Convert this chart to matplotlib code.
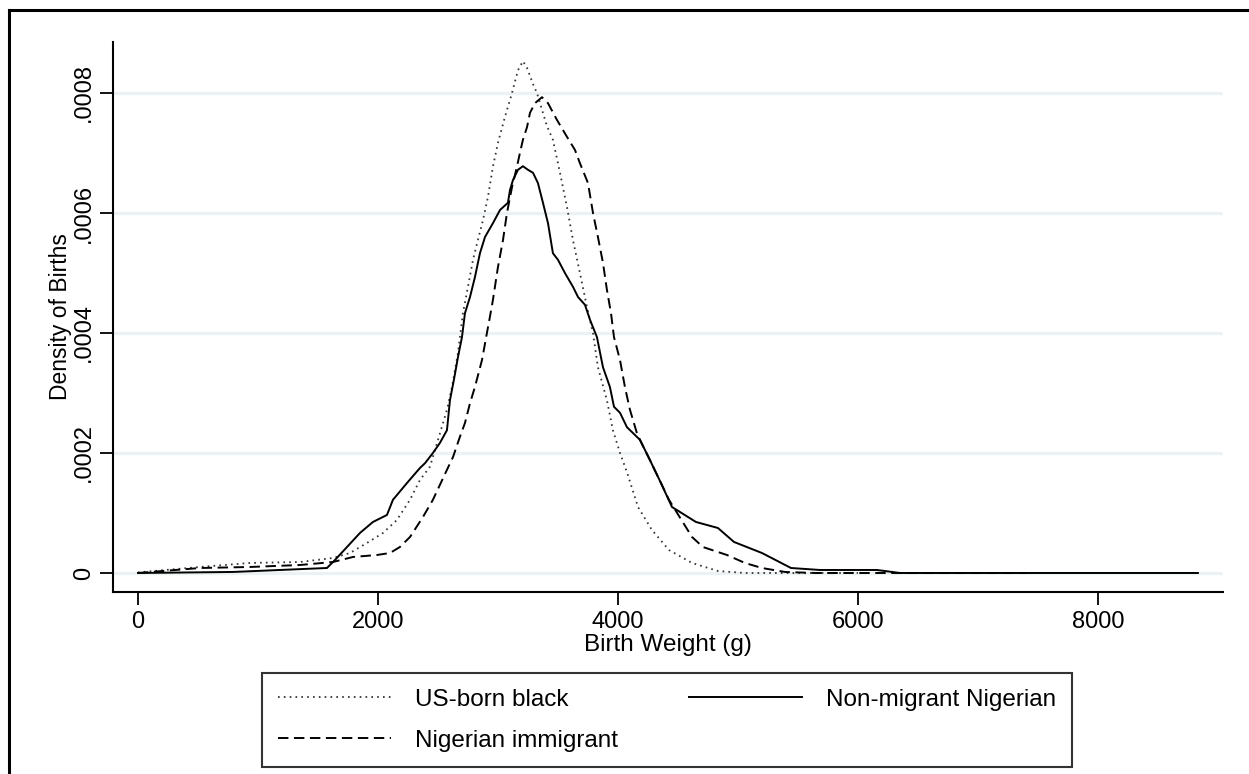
import matplotlib
matplotlib.use("Agg")
import matplotlib.pyplot as plt
from matplotlib.lines import Line2D

plt.rcParams['font.family'] = ['Liberation Sans', 'DejaVu Sans']
plt.rcParams['lines.scale_dashes'] = False

# US-born black (dotted)
us_x = [0, 517, 933, 1350, 1625, 1767, 1908, 2042, 2158, 2267, 2350, 2433, 2517,
        2575, 2617, 2667, 2708, 2750, 2792, 2833, 2875, 2917, 2958, 3000, 3058,
        3117, 3167, 3208, 3242, 3292, 3325, 3367, 3408, 3458, 3517, 3575, 3625,
        3683, 3742, 3792, 3833, 3908, 3958, 4017, 4075, 4167, 4283, 4425, 4617,
        4833, 5058, 6000]
us_y = [0.000001, 0.00001, 0.0000167, 0.0000183, 0.000025, 0.0000333, 0.00005,
        0.0000667, 0.0000883, 0.000122, 0.000155, 0.000177, 0.000233, 0.000272,
        0.00031, 0.000367, 0.000433, 0.000477, 0.000522, 0.000555, 0.000588,
        0.000627, 0.000677, 0.000717, 0.00076, 0.0008, 0.000838, 0.000853,
        0.000842, 0.000815, 0.0008, 0.000772, 0.000745, 0.000722, 0.000667,
        0.00061, 0.000555, 0.0005, 0.000443, 0.0004, 0.000343, 0.000288,
        0.000238, 0.0002, 0.000168, 0.00011, 0.0000717, 0.0000383, 0.0000167,
        0.0000033, 0.0, 0.0]

# Non-migrant Nigerian (solid)
nm_x = [0, 792, 1575, 1642, 1742, 1850, 1958, 2075, 2125, 2242, 2350, 2392, 2458,
        2517, 2575, 2600, 2633, 2667, 2700, 2725, 2767, 2808, 2850, 2892, 2958,
        3017, 3083, 3100, 3125, 3167, 3208, 3250, 3292, 3333, 3375, 3417, 3458,
        3500, 3558, 3625, 3667, 3725, 3767, 3825, 3875, 3933, 3967, 4017, 4075,
        4183, 4267, 4358, 4450, 4650, 4833, 4967, 5200, 5442, 5683, 6158, 6350,
        7417, 8833]
nm_y = [0.0, 0.0000017, 0.0000083, 0.0000217, 0.0000433, 0.0000667, 0.000085,
        0.0000967, 0.000122, 0.00015, 0.000175, 0.000183, 0.0002, 0.000217,
        0.000238, 0.000288, 0.000322, 0.00036, 0.000393, 0.000433, 0.00046,
        0.000493, 0.000533, 0.00056, 0.000583, 0.000605, 0.000617, 0.000638,
        0.000655, 0.000672, 0.000678, 0.000672, 0.000667, 0.00065, 0.000617,
        0.000583, 0.000533, 0.000522, 0.0005, 0.000477, 0.00046, 0.000447,
        0.000422, 0.000393, 0.000343, 0.00031, 0.000277, 0.000267, 0.000243,
        0.000222, 0.000188, 0.00015, 0.00011, 0.000085, 0.000075, 0.0000517,
        0.0000333, 0.0000083, 0.000005, 0.000005, 0.0, 0.0, 0.0]

# Nigerian immigrant (dashed)
im_x = [0, 517, 933, 1350, 1625, 1792, 1992, 2100, 2183, 2267, 2375, 2458, 2575,
        2625, 2683, 2725, 2767, 2808, 2867, 2908, 2933, 2958, 3000, 3042, 3075,
        3117, 3158, 3183, 3208, 3242, 3267, 3308, 3367, 3417, 3492, 3575, 3642,
        3683, 3750, 3792, 3833, 3875, 3908, 3942, 3967, 4017, 4058, 4100, 4158,
        4183, 4267, 4358, 4425, 4617, 4708, 4908, 5058, 5200, 5392, 5642, 7400]
im_y = [0.0, 0.0000083, 0.00001, 0.0000133, 0.0000183, 0.0000267, 0.00003,
        0.0000333, 0.0000433, 0.00006, 0.0000933, 0.000122, 0.000172, 0.000193,
        0.000227, 0.00025, 0.000283, 0.00031, 0.000355, 0.0004, 0.000427,
        0.000455, 0.00051, 0.000555, 0.0006, 0.000643, 0.000677, 0.0007,
        0.000722, 0.000743, 0.000767, 0.000783, 0.000793, 0.000783, 0.000755,
        0.000727, 0.000705, 0.000683, 0.00065, 0.0006, 0.00056, 0.000517,
        0.000472, 0.000433, 0.000393, 0.000355, 0.00031, 0.000272, 0.000233,
        0.000222, 0.000188, 0.00015, 0.000122, 0.00006, 0.0000433, 0.00003,
        0.0000167, 0.0000083, 0.0000017, 0.0, 0.0]

x_ticks = [0, 2000, 4000, 6000, 8000]
y_ticks = [0, 0.0002, 0.0004, 0.0006, 0.0008]
y_tick_labels = ['0', '.0002', '.0004', '.0006', '.0008']

fig = plt.figure(figsize=(12.49, 7.74), dpi=100)
ax = fig.add_axes([113 / 1249, 1 - 592 / 774, 1110 / 1249, 550 / 774])

for y in y_ticks:
    ax.axhline(y, color='#eaf2f3', lw=2.2, zorder=0)

l_us, = ax.plot(us_x, us_y, color='#333333', lw=1.3, linestyle=(0, (1.2, 3.0)),
                label='US-born black')
l_im, = ax.plot(im_x, im_y, color='black', lw=1.4, linestyle=(0, (7.5, 4)),
                label='Nigerian immigrant')
l_nm, = ax.plot(nm_x, nm_y, color='black', lw=1.4, label='Non-migrant Nigerian')

ax.set_xlim(-208, 9042)
ax.set_ylim(-3.17e-5, 8.85e-4)
ax.set_xticks(x_ticks)
ax.set_xticklabels([str(v) for v in x_ticks])
ax.set_yticks(y_ticks)
ax.set_yticklabels(y_tick_labels, rotation=90, va='center')

for s in ['top', 'right']:
    ax.spines[s].set_visible(False)
for s in ['left', 'bottom']:
    ax.spines[s].set_linewidth(1.5)

ax.tick_params(axis='both', length=9.4, width=1.3, labelsize=17, colors='black')
ax.tick_params(axis='x', pad=4)
ax.tick_params(axis='y', pad=3.5)

ax.set_xlabel('Birth Weight (g)', fontsize=17.5, labelpad=1)
ax.set_ylabel('Density of Births', fontsize=16.5, va='center')
ax.yaxis.set_label_coords(-0.047, 0.5)

leg = fig.legend(handles=[l_us, l_im, l_nm], ncol=2, mode='expand',
                 loc='upper left', bbox_to_anchor=(262 / 1249, 0, 810 / 1249, 1 - 673 / 774),
                 bbox_transform=fig.transFigure, borderaxespad=0,
                 fontsize=17.5, handlelength=4.65, handletextpad=1.0,
                 borderpad=0.64, labelspacing=0.78, fancybox=False, frameon=True)
leg.get_frame().set_edgecolor('black')
leg.get_frame().set_linewidth(1.5)

# outer frame (left and top edges visible)
fig.add_artist(Line2D([9 / 1249, 9 / 1249], [0, 1 - 10 / 774], color='black', lw=2.2,
                      transform=fig.transFigure))
fig.add_artist(Line2D([9 / 1249, 1], [1 - 10 / 774, 1 - 10 / 774], color='black', lw=2.2,
                      transform=fig.transFigure))

fig.savefig('out.png', dpi=100)
